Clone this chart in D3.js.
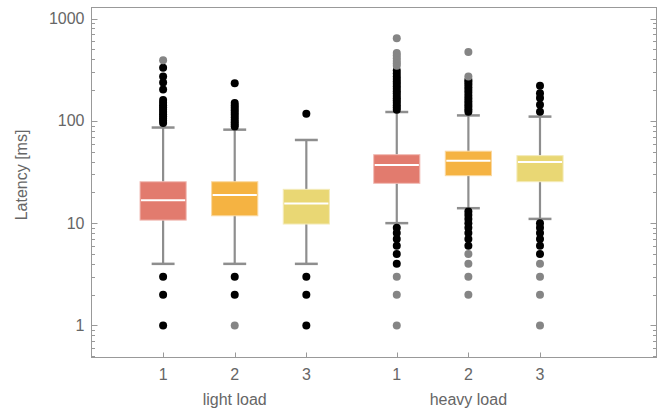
<!DOCTYPE html>
<html>
  <head>
    <title>Latency box whisker chart</title>
    <script src="https://d3js.org/d3.v7.min.js"></script>
    <style>
      body { margin: 0; background: #fff; }
      text { font-family: "Liberation Sans", Arial, sans-serif; fill: #666; }
      .frame { fill: none; stroke: #999; stroke-width: 1px; }
      .tick line { stroke: #999; }
    </style>
  </head>
  <body>
    <div id="chart"></div>
    <script>
      // groups and series
      const groups = ["light load", "heavy load"];
      const series = ["1", "2", "3"];
      const colors = ["#e27b6e", "#f5b342", "#e9d774"];

      // box statistics, order: light 1..3, heavy 1..3
      const q1 = [10.7, 11.8, 9.8, 24.5, 29.1, 25.4];
      const medians = [16.7, 18.8, 15.6, 37, 40.8, 39.6];
      const q3 = [25.4, 25.4, 21.4, 46.7, 50.5, 45.7];
      const whiskerLow = [4, 4, 4, 10, 14, 11];
      const whiskerHigh = [86, 82, 65, 122, 113, 110];

      const outliers = [
        [1, 2, 3, 95, 100, 105, 110, 116, 122, 128, 135, 142, 150, 160, 203, 237, 272, 330, 392],
        [1, 2, 3, 88, 92, 97, 102, 108, 114, 120, 127, 134, 141, 149, 233],
        [1, 2, 3, 117],
        [1, 2, 3, 4, 5, 6, 7, 8, 9, 128, 135, 142, 150, 158, 166, 175, 185, 195, 206, 218, 230, 243, 257, 272, 290, 310, 345, 365, 385, 410, 435, 460, 640],
        [2, 3, 4, 5, 6, 7, 8, 9, 10, 11, 12, 13, 123, 130, 138, 146, 155, 165, 176, 188, 200, 213, 227, 240, 251, 272, 472],
        [1, 2, 3, 4, 5, 6, 7, 8, 9, 10, 123, 144, 167, 186, 220]
      ];

      const yTicks = [1, 10, 100, 1000];

      const width = 670, height = 412;
      const frame = { left: 91.5, right: 656.5, top: 7.5, bottom: 357.5 };
      const groupGap = 1.263;

      const svg = d3.select("#chart").append("svg")
        .attr("width", width)
        .attr("height", height);

      const x = d3.scaleLinear().domain([0, 7.89]).range([frame.left, frame.right]);
      const y = d3.scaleLog().domain([0.486, 1282]).range([frame.bottom, frame.top]);

      const boxes = [];
      groups.forEach((g, gi) => {
        series.forEach((s, si) => {
          const i = gi * series.length + si;
          boxes.push({
            group: g, label: s, color: colors[si],
            pos: si + 1 + gi * (series.length - 1 + groupGap),
            q1: q1[i], med: medians[i], q3: q3[i],
            lo: whiskerLow[i], hi: whiskerHigh[i],
            out: outliers[i]
          });
        });
      });

      const unit = x(1) - x(0);
      const boxW = unit * 0.645;
      const capW = unit * 0.32;

      // frame
      svg.append("rect").attr("class", "frame")
        .attr("x", frame.left).attr("y", frame.top)
        .attr("width", frame.right - frame.left)
        .attr("height", frame.bottom - frame.top);

      // y ticks (major + minor, left and right, inward)
      const minor = [];
      for (let e = -1; e <= 3; e++) {
        for (let m = 1; m <= 9; m++) {
          const v = m * Math.pow(10, e);
          if (v >= y.domain()[0] && v <= y.domain()[1]) minor.push(v);
        }
      }
      const tickG = svg.append("g").attr("class", "tick");
      minor.forEach(v => {
        const major = yTicks.includes(v);
        const len = major ? 6 : 3.5;
        const yy = Math.round(y(v)) + 0.5;
        tickG.append("line").attr("x1", frame.left).attr("x2", frame.left + len)
          .attr("y1", yy).attr("y2", yy);
        tickG.append("line").attr("x1", frame.right).attr("x2", frame.right - len)
          .attr("y1", yy).attr("y2", yy);
      });

      svg.selectAll(".ylabel")
        .data(yTicks)
        .enter().append("text")
        .attr("class", "ylabel")
        .attr("x", frame.left - 7)
        .attr("y", d => y(d))
        .attr("dy", "0.35em")
        .attr("text-anchor", "end")
        .style("font-size", "16px")
        .text(d => d);

      svg.append("text")
        .attr("transform", `translate(27,${(y(1) + y(1000)) / 2 + 3}) rotate(-90)`)
        .attr("text-anchor", "middle")
        .style("font-size", "16px")
        .text("Latency [ms]");

      // x ticks and labels
      boxes.forEach(b => {
        const xx = Math.round(x(b.pos)) + 0.5;
        tickG.append("line").attr("x1", xx).attr("x2", xx)
          .attr("y1", frame.bottom).attr("y2", frame.bottom - 5);
      });

      svg.selectAll(".xlabel")
        .data(boxes)
        .enter().append("text")
        .attr("class", "xlabel")
        .attr("x", d => x(d.pos))
        .attr("y", 380)
        .attr("text-anchor", "middle")
        .style("font-size", "16px")
        .text(d => d.label);

      svg.selectAll(".glabel")
        .data(groups)
        .enter().append("text")
        .attr("class", "glabel")
        .attr("x", (d, gi) => x(2 + gi * (series.length - 1 + groupGap)))
        .attr("y", 405)
        .attr("text-anchor", "middle")
        .style("font-size", "16px")
        .text(d => d);

      // boxes
      const bg = svg.selectAll(".box")
        .data(boxes)
        .enter().append("g")
        .attr("class", "box");

      bg.append("line")
        .attr("x1", d => x(d.pos)).attr("x2", d => x(d.pos))
        .attr("y1", d => y(d.lo)).attr("y2", d => y(d.hi))
        .attr("stroke", "#8e8e8e").attr("stroke-width", 2.2);

      ["lo", "hi"].forEach(k => {
        bg.append("line")
          .attr("x1", d => x(d.pos) - capW / 2).attr("x2", d => x(d.pos) + capW / 2)
          .attr("y1", d => y(d[k])).attr("y2", d => y(d[k]))
          .attr("stroke", "#8e8e8e").attr("stroke-width", 2.5);
      });

      bg.append("rect")
        .attr("x", d => x(d.pos) - boxW / 2)
        .attr("width", boxW)
        .attr("y", d => y(d.q3))
        .attr("height", d => y(d.q1) - y(d.q3))
        .attr("fill", d => d.color)
        .attr("stroke", d => d3.interpolateRgb(d.color, "#fff")(0.5))
        .attr("stroke-width", 1);

      bg.append("line")
        .attr("x1", d => x(d.pos) - boxW / 2 + 1).attr("x2", d => x(d.pos) + boxW / 2 - 1)
        .attr("y1", d => y(d.med)).attr("y2", d => y(d.med))
        .attr("stroke", "#fff").attr("stroke-width", 2);

      // outliers: far outliers (beyond 3 IQR in log space) in grey
      bg.each(function (b) {
        const l1 = Math.log10(b.q1), l3 = Math.log10(b.q3);
        const iqr = l3 - l1;
        d3.select(this).selectAll("circle")
          .data(b.out)
          .enter().append("circle")
          .attr("cx", x(b.pos))
          .attr("cy", v => y(v))
          .attr("r", 4)
          .attr("fill", v => {
            const lv = Math.log10(v);
            return (lv > l3 + 3 * iqr || lv < l1 - 3 * iqr) ? "#858585" : "#000";
          });
      });
    </script>
  </body>
</html>
